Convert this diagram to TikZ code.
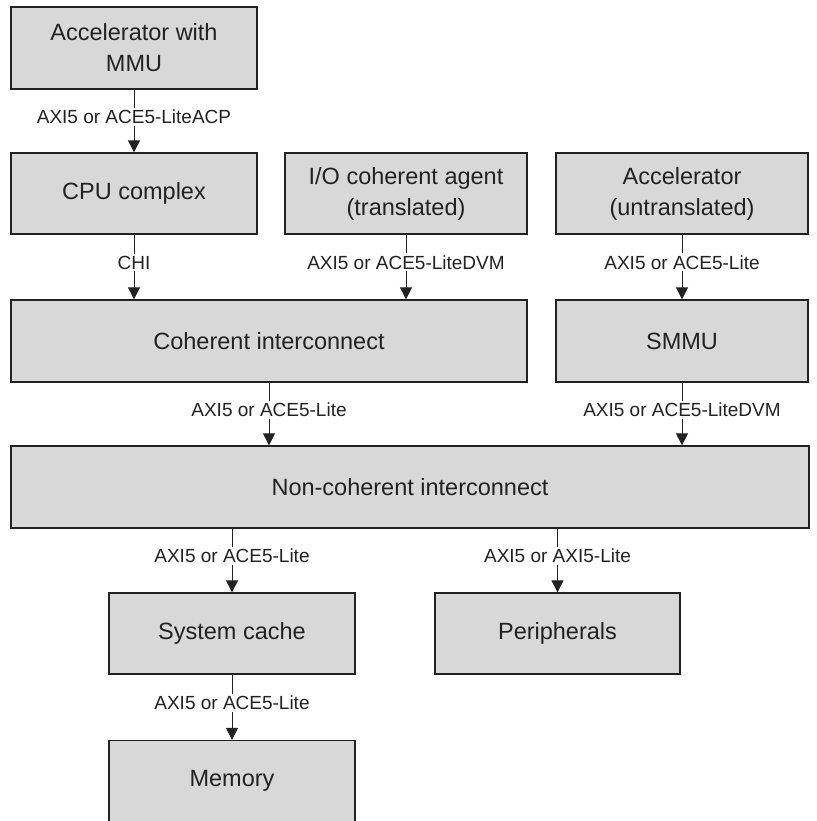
\documentclass[tikz,border=0pt]{standalone}
\usepackage{fontspec}
\setmainfont{Liberation Sans}
\usetikzlibrary{arrows.meta,positioning}
\definecolor{boxfill}{HTML}{D8D8D8}
\definecolor{ink}{HTML}{222222}
\begin{document}
\begin{tikzpicture}[x=1pt,y=-1pt,text=ink,
box/.style={draw=ink,line width=1.3pt,fill=boxfill,inner sep=0pt,align=center,minimum height=81pt,font=\fontsize{23.5}{31}\selectfont},
lbl/.style={fill=white,inner sep=2pt,pos=.43,font=\fontsize{19}{22}\selectfont},
arrow/.style={draw=ink,line width=1pt,-{Triangle[length=12pt,width=12pt]}}]
\useasboundingbox (0,0) rectangle (816,821);
\node[box,minimum width=246pt,minimum height=82pt](mmu) at (134,48){Accelerator with\\MMU};
\node[box,minimum width=246pt](cpu) at (134,193.5){CPU complex};
\node[box,minimum width=242pt](io) at (406,193.5){I/O coherent agent\\(translated)};
\node[box,minimum width=252pt](acc) at (682,193.5){Accelerator\\(untranslated)};
\node[box,minimum width=516pt,minimum height=82pt](coh) at (269,341){Coherent interconnect};
\node[box,minimum width=252pt,minimum height=82pt](smmu) at (682,341){SMMU};
\node[box,minimum width=798pt,minimum height=82pt](nci) at (410,487){Non-coherent interconnect};
\node[box,minimum width=246pt](sc) at (232,633.5){System cache};
\node[box,minimum width=245pt](per) at (557.5,633.5){Peripherals};
\node[box,minimum width=246pt](mem) at (232,781){Memory};
\draw[arrow](mmu)--node[lbl]{AXI5 or ACE5-LiteACP}(cpu);
\draw[arrow](cpu)--node[lbl]{CHI}(cpu.south|-coh.north);
\draw[arrow](io)--node[lbl]{AXI5 or ACE5-LiteDVM}(io.south|-coh.north);
\draw[arrow](acc)--node[lbl]{AXI5 or ACE5-Lite}(smmu);
\draw[arrow](coh)--node[lbl]{AXI5 or ACE5-Lite}(coh.south|-nci.north);
\draw[arrow](smmu)--node[lbl]{AXI5 or ACE5-LiteDVM}(smmu.south|-nci.north);
\draw[arrow](nci.south-|sc.north)--node[lbl]{AXI5 or ACE5-Lite}(sc);
\draw[arrow](nci.south-|per.north)--node[lbl]{AXI5 or AXI5-Lite}(per);
\draw[arrow](sc)--node[lbl]{AXI5 or ACE5-Lite}(mem);
\end{tikzpicture}
\end{document}
